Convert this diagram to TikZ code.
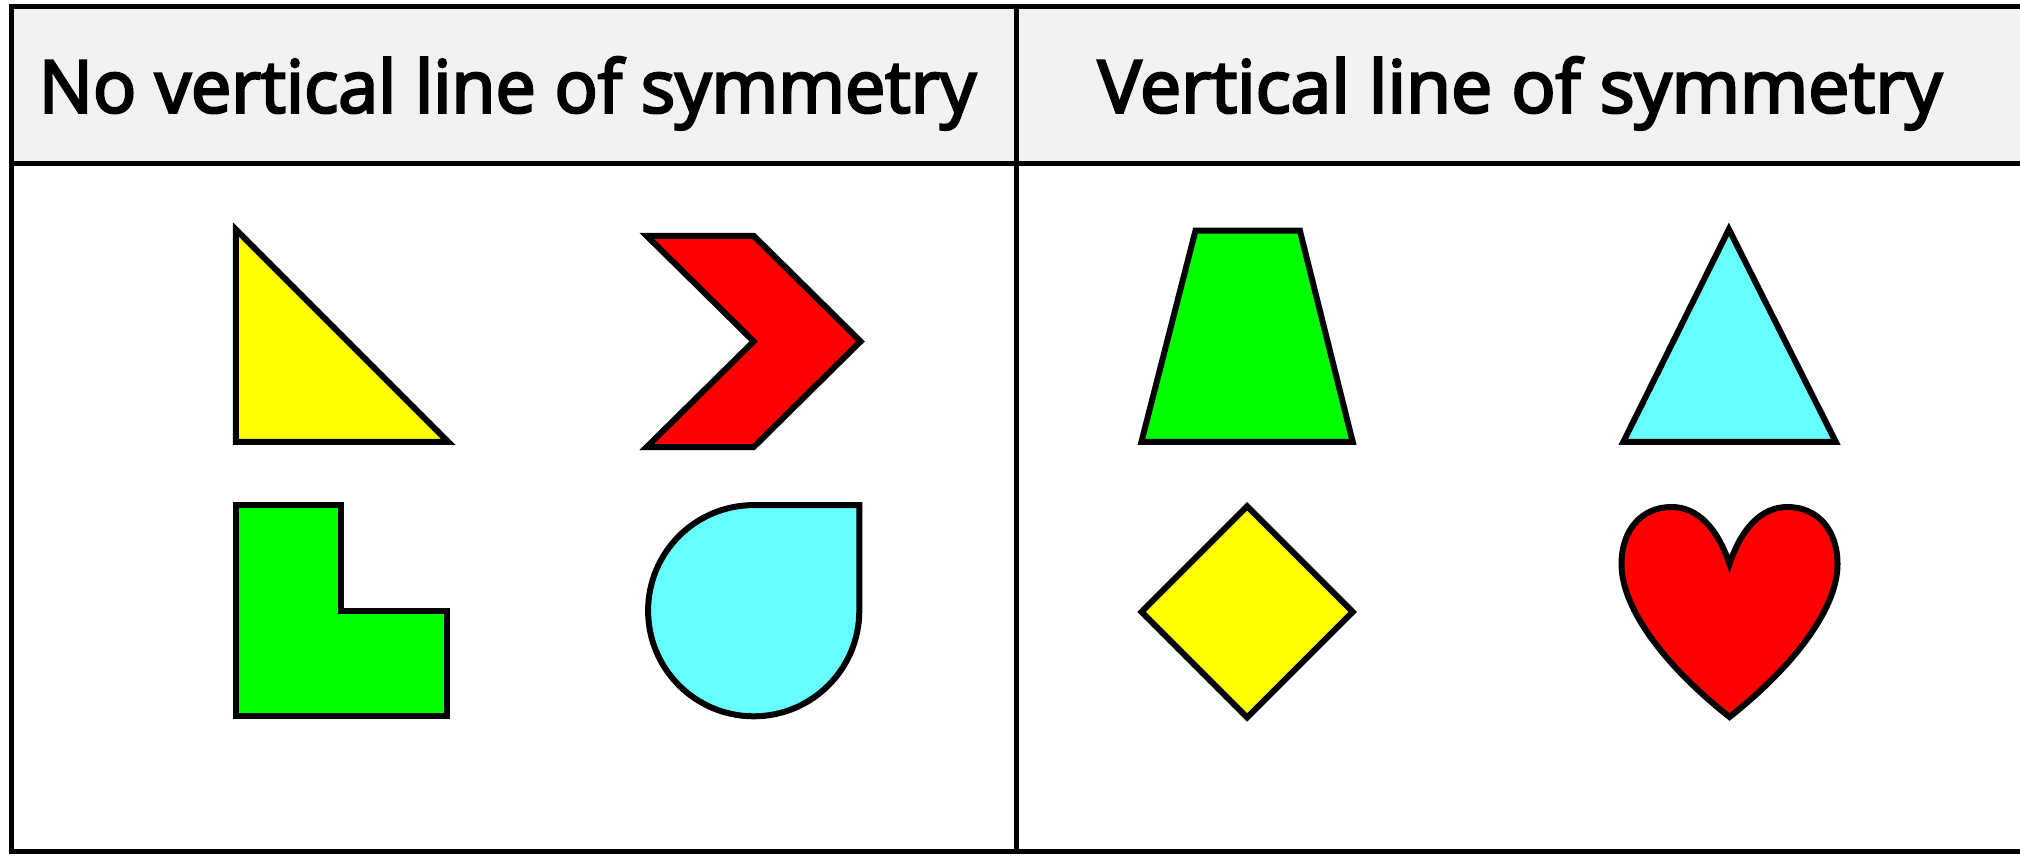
\documentclass[tikz,border=0pt]{standalone}
\usepackage{fontspec}
\setmainfont{Open Sans}
\newfontfamily\hdrfont{Open Sans}[FakeBold=3.5]
\usepackage{graphicx}
\definecolor{hdrgray}{HTML}{F2F2F2}
\definecolor{shyellow}{HTML}{FFFF00}
\definecolor{shred}{HTML}{FF0000}
\definecolor{shgreen}{HTML}{00FF00}
\definecolor{shcyan}{HTML}{66FFFF}
\begin{document}
\begin{tikzpicture}[x=1pt,y=-1pt,
  shapeline/.style={draw=black,line width=6pt,line join=miter},
  gridline/.style={draw=black,line width=5.5pt},
  headtext/.style={inner sep=0pt,anchor=north west}]
\useasboundingbox (0,0) rectangle (2020,855);
\fill[white] (0,0) rectangle (2020,855);
\fill[hdrgray] (11.6,6.4) rectangle (2030,163.6);
\draw[gridline] (11.6,6.4) rectangle (2030,851.6);
\draw[gridline] (11.6,163.6) -- (2030,163.6);
\draw[gridline] (1016.5,6.4) -- (1016.5,851.6);
% headers
\node[headtext] (hleft) at (38.6,56.7) {\resizebox*{937pt}{73pt}{\hdrfont No vertical line of symmetry}};
\node[headtext] (hright) at (1097.6,56.7) {\resizebox*{844pt}{73pt}{\hdrfont Vertical line of symmetry}};
% left column
\draw[shapeline,fill=shyellow] (235.8,229.3) -- (235.8,441.9) -- (448.3,441.9) -- cycle;
\draw[shapeline,fill=shred] (646.7,235.8) -- (753.7,235.8) -- (860.6,341.4) -- (753.7,447.0) -- (646.7,447.0) -- (753.7,341.4) -- cycle;
\draw[shapeline,fill=shgreen] (235.8,505.0) -- (341.4,505.0) -- (341.4,610.7) -- (447.0,610.7) -- (447.0,716.3) -- (235.8,716.3) -- cycle;
\draw[shapeline,fill=shcyan] (753.7,505.0) -- (859.3,505.0) -- (859.3,610.7) arc[start angle=0,end angle=270,radius=105.6] -- cycle;
% right column
\draw[shapeline,fill=shgreen] (1195.5,230.6) -- (1299.9,230.6) -- (1352.7,441.9) -- (1141.4,441.9) -- cycle;
\draw[shapeline,fill=shcyan] (1728.9,229.3) -- (1835.8,441.9) -- (1623.3,441.9) -- cycle;
\draw[shapeline,fill=shyellow] (1247.1,506.3) -- (1352.7,611.9) -- (1247.1,717.5) -- (1141.5,611.9) -- cycle;
\begin{scope}[shift={(1729.5,0)}]
\draw[shapeline,fill=shred] (0,564) .. controls (-12,528) and (-32,507) .. (-58,507)
  .. controls (-88,507) and (-108,530) .. (-108,564)
  .. controls (-108,610) and (-62,668) .. (0,717)
  .. controls (62,668) and (108,610) .. (108,564)
  .. controls (108,530) and (88,507) .. (58,507)
  .. controls (32,507) and (12,528) .. (0,564) -- cycle;
\end{scope}
\end{tikzpicture}
\end{document}
